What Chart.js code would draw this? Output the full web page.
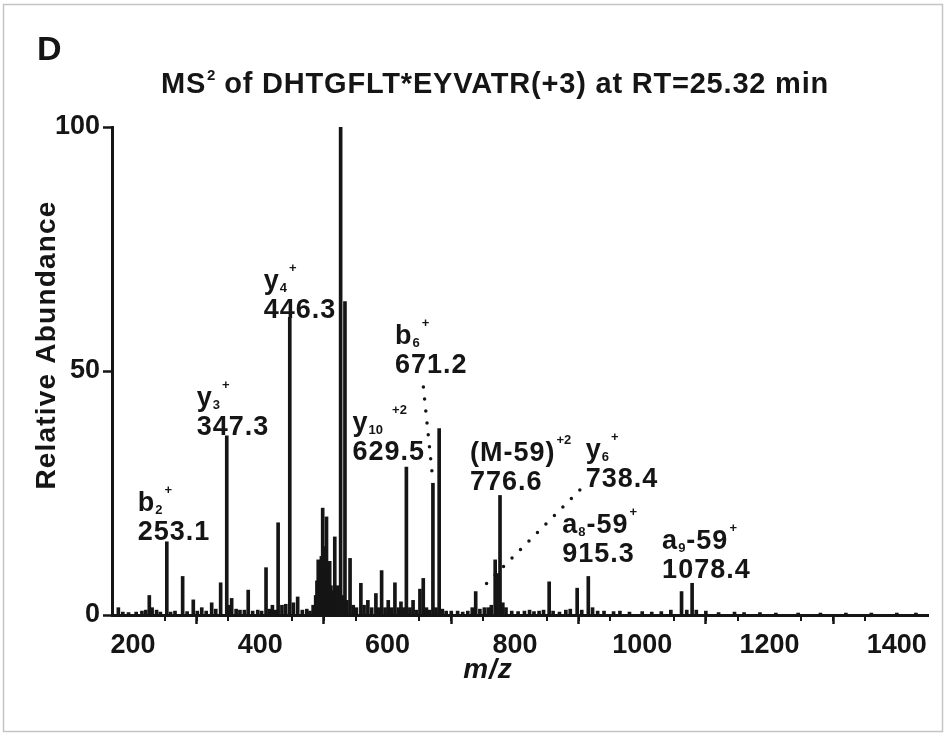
<!DOCTYPE html>
<html><head><meta charset="utf-8">
<script src="https://cdn.jsdelivr.net/npm/chart.js@4.4.0/dist/chart.umd.min.js"></script>
<style>
html,body{margin:0;padding:0;background:#fff;}
canvas{display:block;}
</style></head><body>
<canvas id="c" width="947" height="736"></canvas>
<script>
// ---------- DATA ----------
const mzValues = [177,184,193,205,214,220,225.6,230,237,243,253.1,259,266,278,285,294.7,301,308,315,323.6,330,337.7,347.3,351,355,362,368,375,381,388,396,402,409,414,419,424,428,434,440,446.3,452,458.7,466,473,478,483,487,489,491,494,496,498,500,501.5,504,506,507.5,509,511,512.5,515,517,519,521,523,526.2,529,533,536,541,546,551,558,563,569,575,581.6,586,590.6,596,601,606,611.5,617,621,625,629.5,635,640,645,650.8,656,661,666,671.2,676,681,686,692,700,710,718,726,733,738.4,745,752,758,763,769,772,776.6,781,786,795,805,815,823,830,838,845,853.8,860,870,880,887,897.8,905,915.3,922,930,940,955,965,980,1000,1015,1030,1045,1061.8,1070,1078.4,1085,1100,1120,1145,1160,1185,1210,1245,1280,1320,1360,1400,1430];
const abundances = [1.5,0.6,0.5,0.6,0.8,1.0,4.0,1.5,1.0,0.6,15.0,0.6,0.8,7.9,0.7,3.1,0.8,1.5,0.8,2.5,1.2,6.6,36.7,2.0,3.4,1.2,1.0,1.0,5.1,0.8,1.0,0.8,9.7,1.2,2.0,1.0,18.9,2.0,2.2,61.0,2.5,3.7,1.0,1.2,0.8,2.0,4.0,7.0,11.3,8.0,12.0,21.9,10.0,14.0,20.1,6.0,9.0,11.0,6.0,5.0,4.0,16.0,5.0,6.0,3.0,100,4.0,64.2,3.0,11.6,2.0,1.5,6.5,2.0,3.0,1.5,4.4,1.5,9.1,1.5,3.0,1.5,6.6,1.5,2.7,1.5,30.3,1.5,3.0,1.0,5.3,7.5,1.5,1.0,27.0,1.5,38.2,1.2,0.8,0.8,0.8,0.6,0.8,1.5,4.8,1.2,1.5,1.5,2.0,11.3,8.5,24.5,2.5,1.5,0.8,0.7,0.8,1.0,0.7,0.8,1.0,6.8,0.8,0.6,1.0,1.2,5.5,1.0,7.9,1.5,0.8,0.8,0.7,0.8,0.6,0.7,0.6,0.7,1.0,4.8,1.0,6.5,1.0,0.8,0.5,0.6,0.5,0.5,0.4,0.4,0.4,0.4,0.4,0.4,0.4];
const xTickValues = [200,400,600,800,1000,1200,1400];
const xMinorTicks = [250,300,350,450,500,550,650,700,750,850,900,950,1050,1100,1150,1250,1300,1350];
const yTickValues = [0,50,100];
const panelLetter = 'D';
const titleParts = [['MS','n'],['2','sup'],[' of DHTGFLT*EYVATR(+3) at RT=25.32 min','n']];
const yAxisTitle = 'Relative Abundance';
const xAxisTitle = 'm/z';
const ionMz = [253.1,347.3,446.3,629.5,671.2,776.6,738.4,915.3,1078.4];
const ionNames = [
  [['b','n'],['2','sub'],['+','sup']],
  [['y','n'],['3','sub'],['+','sup']],
  [['y','n'],['4','sub'],['+','sup']],
  [['y','n'],['10','sub'],['  +2','sup']],
  [['b','n'],['6','sub'],['+','sup']],
  [['(M-59)','n'],['+2','sup']],
  [['y','n'],['6','sub'],['+','sup']],
  [['a','n'],['8','sub'],['-59','n'],['+','sup']],
  [['a','n'],['9','sub'],['-59','n'],['+','sup']]
];
const ionValues = ['253.1','347.3','446.3','629.5','671.2','776.6','738.4','915.3','1078.4'];
const leaderB6 = [{x:656.2,y:46.7},{x:670.7,y:28.1}];
const leaderY6 = [{x:902,y:25.6},{x:752,y:6.0}];

// ---------- LAYOUT (pixel offsets of labels from their peak tops) ----------
const labelOffsets = [[-29,-2],[-30,-1],[-26,1],[-54,-7],[-38,-110],[-30,-5],[110,-105],[-26,-14],[-30,-5]];
const FONT = '"Liberation Sans", Arial, Helvetica, sans-serif';
const INK = '#151515';

function setSpacing(ctx, v){ try{ ctx.letterSpacing = v; }catch(e){} }
function segWidth(ctx, segs, big, small, sp){
  let w = 0;
  for (const [t,k] of segs){
    if (k==='n'){ ctx.font = `bold ${big}px ${FONT}`; setSpacing(ctx, sp); }
    else { ctx.font = `bold ${small}px ${FONT}`; setSpacing(ctx,'0px'); }
    w += ctx.measureText(t).width + (k==='n'?0:1);
  }
  return w;
}
function drawSegs(ctx, x, base, segs, big, small, sp, supRise){
  let cx = x;
  ctx.textAlign = 'left'; ctx.textBaseline = 'alphabetic';
  for (const [t,k] of segs){
    if (k==='n'){
      ctx.font = `bold ${big}px ${FONT}`; setSpacing(ctx, sp);
      ctx.fillText(t, cx, base); cx += ctx.measureText(t).width;
    } else if (k==='sub'){
      ctx.font = `bold ${small}px ${FONT}`; setSpacing(ctx,'0px');
      ctx.fillText(t, cx, base+3); cx += ctx.measureText(t).width + 1;
    } else {
      ctx.font = `bold ${small}px ${FONT}`; setSpacing(ctx,'0px');
      ctx.fillText(t, cx+1, base-supRise); cx += ctx.measureText(t).width + 1;
    }
  }
}

const textPlugin = {
  id:'texts',
  beforeDraw(chart){
    const ctx = chart.ctx;
    ctx.save();
    ctx.fillStyle = '#fff'; ctx.fillRect(0,0,chart.width,chart.height);
    ctx.strokeStyle = '#c4c4c4'; ctx.lineWidth = 1.5;
    ctx.strokeRect(3.5,4.5,939,727);
    ctx.restore();
  },
  afterDraw(chart){
    const ctx = chart.ctx, xs = chart.scales.x, ys = chart.scales.y;
    ctx.save();
    ctx.fillStyle = INK; ctx.strokeStyle = INK;
    // minor ticks
    ctx.lineWidth = 2;
    const b = chart.chartArea.bottom;
    for (const v of xMinorTicks){
      const px = Math.round(xs.getPixelForValue(v));
      ctx.beginPath(); ctx.moveTo(px, b); ctx.lineTo(px, b+6); ctx.stroke();
    }
    // panel letter
    ctx.font = `bold 34px ${FONT}`; setSpacing(ctx,'0px'); ctx.textAlign='left'; ctx.textBaseline='alphabetic';
    ctx.fillText(panelLetter, 37, 60);
    // title
    const tw = segWidth(ctx, titleParts, 29, 15, '0.8px');
    drawSegs(ctx, 495 - tw/2, 93, titleParts, 29, 15, '0.8px', 13);
    // y axis title
    ctx.save();
    ctx.translate(47, 345); ctx.rotate(-Math.PI/2);
    ctx.font = `bold 28px ${FONT}`; setSpacing(ctx,'1.2px');
    ctx.textAlign='center'; ctx.textBaseline='middle';
    ctx.fillText(yAxisTitle, 0, 0);
    ctx.restore();
    // x axis title
    ctx.font = `italic bold 28px ${FONT}`; setSpacing(ctx,'1px');
    ctx.textAlign='center'; ctx.textBaseline='alphabetic';
    ctx.fillText(xAxisTitle, 488, 678);
    // ion labels
    for (let i=0;i<ionMz.length;i++){
      const idx = mzValues.indexOf(ionMz[i]);
      const px = xs.getPixelForValue(ionMz[i]);
      const py = ys.getPixelForValue(abundances[idx]);
      const left = px + labelOffsets[i][0];
      const base = py + labelOffsets[i][1];
      ctx.font = `bold 27px ${FONT}`; setSpacing(ctx,'1px'); ctx.textAlign='left'; ctx.textBaseline='alphabetic';
      ctx.fillText(ionValues[i], left, base);
      drawSegs(ctx, left, base-29, ionNames[i], 27, 13, '1px', 17);
    }
    ctx.restore();
  }
};

const dotted = {
  type:'line', borderColor:INK, borderWidth:3.5, borderDash:[0,12], borderCapStyle:'round',
  pointRadius:0, fill:false, tension:0, order:1
};

new Chart(document.getElementById('c'), {
  type:'bar',
  data:{ datasets:[
    { type:'bar', data: mzValues.map((m,i)=>({x:m, y:abundances[i]})), backgroundColor:INK, borderWidth:0, barThickness:3, order:2 },
    Object.assign({ data: leaderB6 }, dotted),
    Object.assign({ data: leaderY6 }, dotted)
  ]},
  options:{
    responsive:false, animation:false, devicePixelRatio:1,
    layout:{ padding:{ left:0, top:127, right:19, bottom:0 } },
    plugins:{ legend:{display:false}, tooltip:{enabled:false}, title:{display:false} },
    scales:{
      x:{ type:'linear', min:167, max:1449, offset:false,
        afterBuildTicks: s => { s.ticks = xTickValues.map(v=>({value:v})); },
        afterFit: s => { s.height = 121; },
        grid:{ display:true, drawOnChartArea:false, drawTicks:true, tickLength:9, tickWidth:2.5, tickColor:INK, color:INK },
        border:{ display:true, color:INK, width:3 },
        ticks:{ autoSkip:false, maxRotation:0, minRotation:0, padding:5, color:INK,
          callback: v => String(v),
          font:{ family:FONT, size:27, weight:'bold' } }
      },
      y:{ min:0, max:100,
        afterBuildTicks: s => { s.ticks = yTickValues.map(v=>({value:v})); },
        afterFit: s => { s.width = 112; },
        grid:{ display:true, drawOnChartArea:false, drawTicks:true, tickLength:9, tickWidth:2.5, tickColor:INK, color:INK },
        border:{ display:true, color:INK, width:3 },
        ticks:{ padding:3, color:INK, callback: v => String(v), font:{ family:FONT, size:27, weight:'bold' } }
      }
    }
  },
  plugins:[textPlugin]
});
</script>
</body></html>
